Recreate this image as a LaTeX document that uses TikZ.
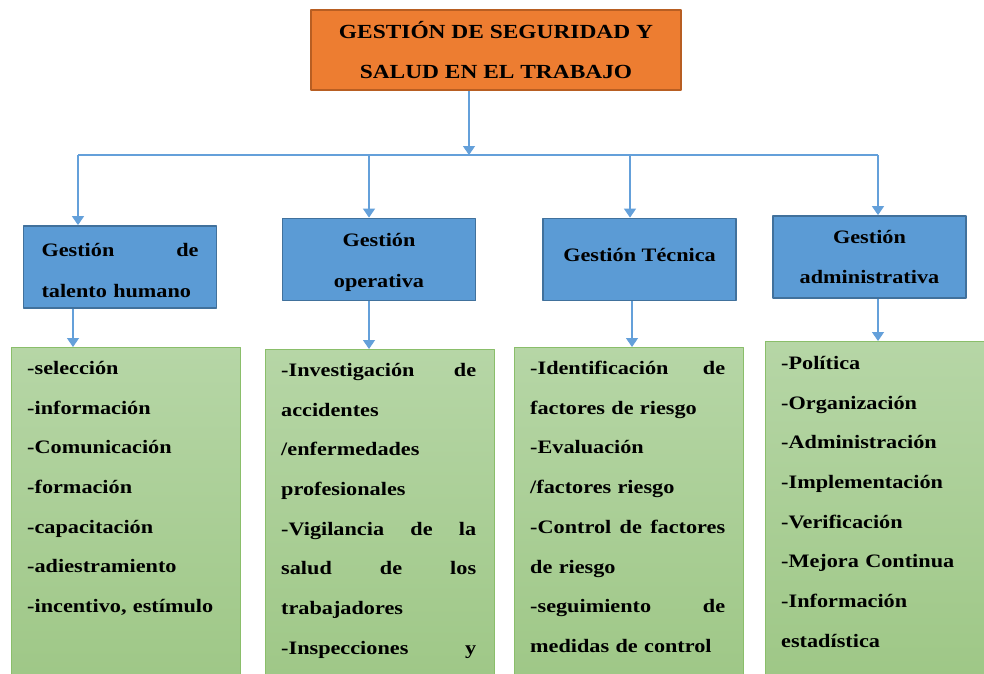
\documentclass[tikz,border=0pt]{standalone}
\usepackage{fontspec}
\setmainfont{Liberation Serif}[FakeStretch=1.17]
\usetikzlibrary{arrows.meta}
\definecolor{titleorange}{RGB}{237,125,49}
\definecolor{titleedge}{RGB}{184,94,34}
\definecolor{areablue}{RGB}{91,155,213}
\definecolor{areaedge}{RGB}{65,113,156}
\definecolor{arrowblue}{RGB}{100,160,218}
\definecolor{listtop}{RGB}{182,214,166}
\definecolor{listbottom}{RGB}{158,199,134}
\definecolor{listedge}{RGB}{138,190,106}

\begin{document}
\begin{tikzpicture}[x=1pt,y=-1pt,line join=round,
    arr/.style={draw=arrowblue,line width=1.3pt,-{Triangle[length=9pt,width=12pt]}},
    titlebox/.style={draw=titleedge,line width=1.8pt,fill=titleorange,inner sep=0pt,
      minimum width=370pt,minimum height=80pt,align=center,
      font=\fontsize{20}{40}\selectfont\bfseries},
    areabox/.style={draw=areaedge,line width=1.8pt,fill=areablue,inner sep=0pt,
      minimum width=193pt,minimum height=82pt,align=center,
      font=\fontsize{19}{40.5}\selectfont\bfseries},
    listbox/.style={draw=listedge,line width=1.2pt,top color=listtop,bottom color=listbottom,
      minimum width=229pt,minimum height=340pt,anchor=north west},
    listtext/.style={anchor=north west,inner sep=0pt,align=left,text width=195pt,
      font=\fontsize{19}{39.7}\selectfont\bfseries}]
    \clip(0,0)rectangle(984,673);
    \fill[white](0,0)rectangle(984,673);
    % cabecera
    \node[titlebox](title)at(496,50){GESTIÓN DE SEGURIDAD Y\\SALUD EN EL TRABAJO};
    % areas de gestion
    \node[areabox,text width=157pt,align=left](talento)at(120,267){\rule{0pt}{20pt}Gestión\hfill de\\talento humano};
    \node[areabox](operativa)at(379,259.5){\rule{0pt}{19pt}Gestión\\operativa};
    \node[areabox,text depth=10pt](tecnica)at(639.5,259.5){Gestión Técnica};
    \node[areabox](admin)at(869.5,257){Gestión\\administrativa};
    % listas
    \node[listbox](listTalento)at(11,347){};
    \node[listbox](listOperativa)at(265,349){};
    \node[listbox](listTecnica)at(514,347){};
    \node[listbox](listAdmin)at(765,341){};
    \node[listtext](txtTalento)at(27,361){-selección\\-información\\-Comunicación\\-formación\\-capacitación\\-adiestramiento\\-incentivo, estímulo};
    \node[listtext](txtOperativa)at(281,363){-Investigación\hfill de\\accidentes\\/enfermedades\\profesionales\\-Vigilancia\hfill de\hfill la\\salud\hfill de\hfill los\\trabajadores\\-Inspecciones\hfill y};
    \node[listtext](txtTecnica)at(530,361){-Identificación\hfill de\\factores de riesgo\\-Evaluación\\/factores riesgo\\-Control\hfill de\hfill factores\\de riesgo\\-seguimiento\hfill de\\medidas de control};
    \node[listtext](txtAdmin)at(781,356){-Política\\-Organización\\-Administración\\-Implementación\\-Verificación\\-Mejora Continua\\-Información\\estadística};
    % conectores
    \coordinate(busL)at(78,155);
    \coordinate(busR)at(878,155);
    \draw[arrowblue,line width=1.3pt](busL)--(busR);
    \draw[arr](title.south -| 469,0)--(busL -| 469,0);
    \foreach \n/\xu/\xd in {talento/78/73,operativa/369/369,tecnica/630/632,admin/878/878}{%
      \draw[arr](busL -| \xu,0)--(\n.north -| \xu,0);
    }
    \foreach \n/\m/\xd in {talento/listTalento/73,operativa/listOperativa/369,tecnica/listTecnica/632,admin/listAdmin/878}{%
      \draw[arr](\n.south -| \xd,0)--(\m.north -| \xd,0);
    }
  \end{tikzpicture}
\end{document}
